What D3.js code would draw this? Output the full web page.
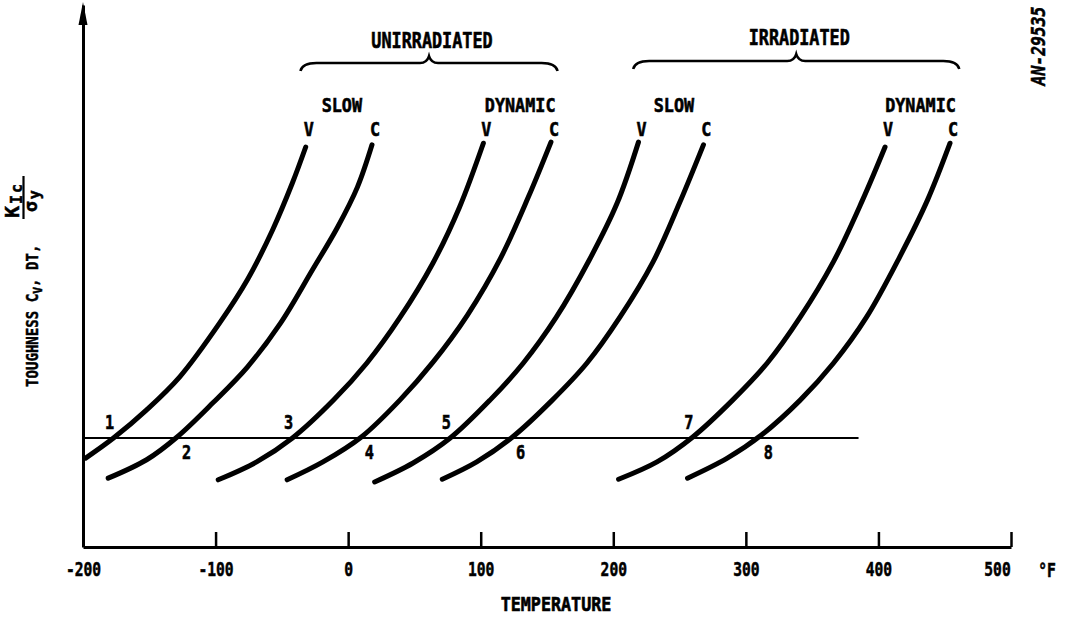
<!DOCTYPE html>
<html>
<head>
<meta charset="utf-8">
<script src="https://cdn.jsdelivr.net/npm/d3@7"></script>
<style>
  body { margin: 0; background: #fff; }
  svg { display: block; }
</style>
</head>
<body>
<div id="chart"></div>
<script>
// temperature ticks (deg F)
const tickTemps = [-200, -100, 0, 100, 200, 300, 400, 500];

// curves: [temperature F, toughness (arbitrary units)]
const unirrSlowV = [[-198, 16.4], [-177, 20.1], [-152, 25.3], [-127, 31.4], [-97, 41.3], [-76, 49.3], [-57, 58.5], [-42, 67.2], [-32, 73.8]];
const unirrSlowC = [[-181, 12.7], [-152, 16.1], [-129, 20.3], [-102, 26.6], [-76, 33.2], [-51, 41.3], [-27, 51.1], [-8, 59.0], [7, 66.4], [18, 74.2]];
const unirrDynV = [[-98, 12.4], [-69, 15.7], [-42, 20.1], [-11, 27.1], [14, 33.9], [39, 42.3], [64, 52.4], [84, 62.7], [102, 74.5]];
const unirrDynC = [[-46, 12.4], [-19, 15.7], [10, 20.3], [39, 27.1], [64, 34.1], [90, 42.8], [115, 53.3], [136, 64.6], [153, 74.7]];
const irrSlowV = [[20, 12.0], [49, 15.5], [77, 20.1], [107, 27.1], [132, 33.9], [157, 42.4], [182, 53.0], [203, 63.5], [219, 74.7]];
const irrSlowC = [[71, 12.5], [97, 15.7], [124, 20.3], [154, 27.1], [180, 33.9], [205, 42.4], [230, 52.6], [250, 63.5], [268, 74.2]];
const irrDynV = [[204, 12.5], [233, 15.7], [260, 20.3], [290, 27.1], [316, 33.9], [341, 42.4], [366, 52.6], [388, 64.0], [405, 73.8]];
const irrDynC = [[256, 12.7], [286, 16.4], [312, 20.7], [341, 27.1], [366, 33.9], [391, 42.4], [416, 53.5], [437, 64.0], [454, 74.5]];

const curves = [unirrSlowV, unirrSlowC, unirrDynV, unirrDynC, irrSlowV, irrSlowC, irrDynV, irrDynC];
const curveTests = ["V", "C", "V", "C", "V", "C", "V", "C"];
const rateNames = ["SLOW", "DYNAMIC", "SLOW", "DYNAMIC"];
const conditionNames = ["UNIRRADIATED", "IRRADIATED"];
const conditionSpans = [[-36, 158], [215, 461]];

// horizontal reference level and where the curves cross it
const refLevel = 20.1;
const refSpan = [-200, 385];
const crossTemps = [-177, -128, -42, 10, 77, 124, 260, 311];
const crossNames = ["1", "2", "3", "4", "5", "6", "7", "8"];

const width = 1076, height = 619;
const FONT = "'DejaVu Sans Mono', monospace";

const x = d3.scaleLinear().domain([-200, 500]).range([83, 1011]);
const y = d3.scaleLinear().domain([0, 100]).range([547, 5]);

const svg = d3.select("#chart").append("svg")
  .attr("width", width).attr("height", height)
  .style("background", "#fff");

// text in a narrow, heavy lettering style
function letter(g, px, py, str, size, sx, anchor) {
  return g.append("text")
    .attr("transform", `translate(${px},${py}) scale(${sx},1)`)
    .attr("text-anchor", anchor || "middle")
    .attr("font-family", FONT)
    .attr("font-weight", "bold")
    .attr("font-size", size)
    .attr("fill", "#000")
    .attr("stroke", "#000").attr("stroke-width", 0.6)
    .text(str);
}

// x axis, ticks pointing up
const xAxis = svg.append("g")
  .attr("transform", `translate(0,${y(0)})`)
  .call(d3.axisBottom(x).tickValues(tickTemps).tickSizeInner(-15).tickSizeOuter(0).tickPadding(16)
    .tickFormat(d3.format("d")));
xAxis.select(".domain").attr("stroke", "#000").attr("stroke-width", 3);
xAxis.selectAll(".tick line").attr("stroke", "#000").attr("stroke-width", 2.5);
xAxis.selectAll(".tick text")
  .attr("font-family", FONT).attr("font-weight", "bold").attr("font-size", 19)
  .attr("fill", "#000").attr("stroke", "#000").attr("stroke-width", 0.5)
  .attr("transform", d => `translate(${d === 500 ? -14 : 0},0) scale(0.77,1)`)
  .text(d => d < 0 ? "-" + Math.abs(d) : d);
letter(svg, 1047, y(0) + 30, "°F", 19, 0.77);
letter(svg, 556, 611, "TEMPERATURE", 19, 0.88);

// y axis with arrow
const yAxis = svg.append("g")
  .attr("transform", `translate(${x(-200)},0)`)
  .call(d3.axisLeft(y).tickValues([]).tickSizeOuter(0));
yAxis.select(".domain").attr("stroke", "#000").attr("stroke-width", 3);
svg.append("path")
  .attr("d", `M${x(-200)},${y(100) - 3} L${x(-200) - 4.5},${y(100) + 20} L${x(-200) + 4.5},${y(100) + 20} Z`)
  .attr("fill", "#000");

// y label
const yl = svg.append("g").attr("transform", "translate(38,387) rotate(-90)");
const t1 = yl.append("text")
  .attr("transform", "scale(0.88,1)")
  .attr("font-family", FONT).attr("font-weight", "bold").attr("font-size", 16)
  .attr("stroke", "#000").attr("stroke-width", 0.5);
t1.append("tspan").text("TOUGHNESS C");
t1.append("tspan").attr("dy", 4).attr("font-size", 13).text("V");
t1.append("tspan").attr("dy", -4).text(", DT,");
const num = yl.append("text")
  .attr("transform", "translate(169,-19)")
  .attr("font-family", FONT).attr("font-weight", "bold").attr("font-size", 20)
  .attr("letter-spacing", 2).attr("stroke", "#000").attr("stroke-width", 0.5);
num.append("tspan").text("K");
num.append("tspan").attr("dy", 3).attr("font-size", 15).text("Ic");
yl.append("line").attr("x1", 168).attr("x2", 211).attr("y1", -14.5).attr("y2", -14.5)
  .attr("stroke", "#000").attr("stroke-width", 2.2);
const den = yl.append("text")
  .attr("transform", "translate(175,-1)")
  .attr("font-family", FONT).attr("font-weight", "bold").attr("font-size", 18)
  .attr("letter-spacing", 2).attr("stroke", "#000").attr("stroke-width", 0.5);
den.append("tspan").text("σ");
den.append("tspan").attr("dy", 3).attr("font-size", 15).text("y");

// drawing number
svg.append("text")
  .attr("transform", "translate(1045,46) rotate(-90) scale(0.82,1)")
  .attr("text-anchor", "middle")
  .attr("font-family", FONT).attr("font-weight", "bold").attr("font-style", "italic")
  .attr("stroke", "#000").attr("stroke-width", 0.5)
  .attr("font-size", 20).text("AN-29535");

// reference level
svg.append("line")
  .attr("x1", x(refSpan[0])).attr("x2", x(refSpan[1]))
  .attr("y1", y(refLevel)).attr("y2", y(refLevel))
  .attr("stroke", "#000").attr("stroke-width", 2);

// curves
const line = d3.line().x(d => x(d[0])).y(d => y(d[1])).curve(d3.curveCatmullRom.alpha(0.5));
svg.append("g").selectAll("path").data(curves).join("path")
  .attr("d", line)
  .attr("fill", "none").attr("stroke", "#000")
  .attr("stroke-width", 5).attr("stroke-linecap", "round");

// V / C labels at the top of each curve
curves.forEach((c, i) => {
  const top = c[c.length - 1];
  letter(svg, x(top[0]) + 3, 136, curveTests[i], 20, 0.84);
});

// SLOW / DYNAMIC, centred between the pair of curves
rateNames.forEach((r, i) => {
  const a = curves[2 * i], b = curves[2 * i + 1];
  const mid = (x(a[a.length - 1][0]) + x(b[b.length - 1][0])) / 2 + 3;
  letter(svg, mid, 112, r, 20, 0.84);
});

// braces and condition names
function brace(x0, x1, yf, depth, peak) {
  const xm = (x0 + x1) / 2;
  const p = d3.path();
  p.moveTo(x0, yf + depth);
  p.quadraticCurveTo(x0 + 2, yf, x0 + 16, yf);
  p.lineTo(xm - 9, yf);
  p.quadraticCurveTo(xm - 2, yf, xm, yf - peak);
  p.quadraticCurveTo(xm + 2, yf, xm + 9, yf);
  p.lineTo(x1 - 16, yf);
  p.quadraticCurveTo(x1 - 2, yf, x1, yf + depth);
  return p.toString();
}
const braceY = [63, 61];
const headY = [48, 45];
conditionNames.forEach((n, i) => {
  const x0 = x(conditionSpans[i][0]), x1 = x(conditionSpans[i][1]);
  svg.append("path").attr("d", brace(x0, x1, braceY[i], 8, 7))
    .attr("fill", "none").attr("stroke", "#000").attr("stroke-width", 2.5);
  letter(svg, (x0 + x1) / 2 + 3, headY[i], n, 21, 0.8);
});

// crossing numbers: odd above-left, even below-right
crossTemps.forEach((t, i) => {
  const odd = i % 2 === 0;
  letter(svg, x(t) + (odd ? -4 : 8), odd ? 429 : 459, crossNames[i], 19, 0.8);
});
</script>
</body>
</html>
